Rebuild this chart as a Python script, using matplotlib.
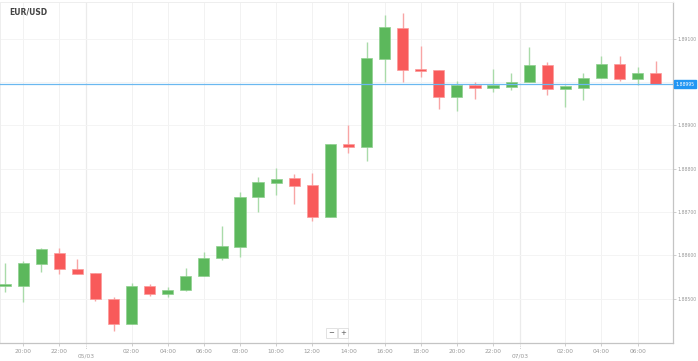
import numpy as np
import matplotlib
matplotlib.use("Agg")
import matplotlib.pyplot as plt
import matplotlib.transforms as mtransforms

# hourly candles, first one is 19:00
opens  = [1.88529, 1.88530, 1.88581, 1.88606, 1.88569, 1.88560, 1.88500, 1.88442,
          1.88530, 1.88511, 1.88521, 1.88553, 1.88595, 1.88620, 1.88735, 1.88768,
          1.88779, 1.88763, 1.88689, 1.88858, 1.88851, 1.89054, 1.89125, 1.89028,
          1.89028, 1.88966, 1.88994, 1.88987, 1.88989, 1.89001, 1.89040, 1.88985,
          1.88987, 1.89010, 1.89042, 1.89008, 1.89022]
closes = [1.88532, 1.88583, 1.88615, 1.88569, 1.88558, 1.88500, 1.88442, 1.88530,
          1.88511, 1.88521, 1.88553, 1.88595, 1.88622, 1.88735, 1.88770, 1.88777,
          1.88761, 1.88689, 1.88858, 1.88851, 1.89056, 1.89128, 1.89028, 1.89026,
          1.88966, 1.88994, 1.88987, 1.88994, 1.89001, 1.89040, 1.88985, 1.88989,
          1.89010, 1.89042, 1.89008, 1.89022, 1.88995]
highs  = [1.88583, 1.88588, 1.88617, 1.88618, 1.88592, 1.88560, 1.88505, 1.88537,
          1.88535, 1.88528, 1.88571, 1.88608, 1.88668, 1.88747, 1.88781, 1.88802,
          1.88788, 1.88791, 1.88858, 1.88902, 1.89093, 1.89155, 1.89160, 1.89084,
          1.89028, 1.89003, 1.89001, 1.89031, 1.89022, 1.89082, 1.89047, 1.88994,
          1.89022, 1.89061, 1.89061, 1.89035, 1.89049]
lows   = [1.88516, 1.88493, 1.88562, 1.88558, 1.88558, 1.88495, 1.88426, 1.88442,
          1.88507, 1.88505, 1.88518, 1.88553, 1.88590, 1.88597, 1.88701, 1.88740,
          1.88719, 1.88680, 1.88689, 1.88837, 1.88818, 1.89001, 1.89001, 1.89012,
          1.88938, 1.88934, 1.88962, 1.88978, 1.88982, 1.89001, 1.88971, 1.88943,
          1.88959, 1.89010, 1.89003, 1.88994, 1.88995]
first_hour = 19
date_labels = ["05/03", "07/03"]
y_ticks = [1.885, 1.886, 1.887, 1.888, 1.889, 1.890, 1.891]
last_price = 1.88995

green = "#5cb85c"
red = "#f85a5a"
green_w = "#a9dba9"
red_w = "#f8a5a5"

o = np.array(opens); c = np.array(closes)
h = np.array(highs); l = np.array(lows)
x = np.arange(len(o))
up = c >= o

fig = plt.figure(figsize=(6.98, 3.61), dpi=100)
ax = fig.add_axes([0.0, 0.05, 0.964, 0.9445])

#wicks
ax.vlines(x[up], l[up], h[up], color=green_w, lw=1.0, zorder=2)
ax.vlines(x[~up], l[~up], h[~up], color=red_w, lw=1.0, zorder=2)
#bodies
bot = np.minimum(o, c)
hgt = np.maximum(np.abs(c - o), 0.00005)
ax.bar(x[up], hgt[up], bottom=bot[up], width=0.62, color=green,
       edgecolor="#8fd08f", linewidth=0.5, zorder=3)
ax.bar(x[~up], hgt[~up], bottom=bot[~up], width=0.62, color=red,
       edgecolor="#fb9a9a", linewidth=0.5, zorder=3)

ax.set_xlim(-0.28, 36.95)
ax.set_ylim(1.88398, 1.89185)

# x ticks: every 2 hours, date marks at midnight boundary
hours = [(first_hour + i) % 24 for i in x]
tpos = [i for i in x if hours[i] % 2 == 0 and hours[i] != 0]
tlab = ["%02d:00" % hours[i] for i in tpos]
dpos = [i - 0.5 for i in x if hours[i] == 0]
ax.set_xticks(tpos)
ax.set_xticklabels(tlab)
ax.tick_params(axis="x", length=2, width=0.5, color="#bbbbbb", labelsize=4.2,
               labelcolor="#999999", pad=2)
for xv in tpos:
    ax.axvline(xv, color="#f2f2f2", lw=0.7, zorder=0)
for xv, lab in zip(dpos, date_labels):
    ax.axvline(xv, color="#ebebeb", lw=0.9, zorder=0)
    ax.plot([xv, xv], [0, -0.018], transform=ax.get_xaxis_transform(),
            color="#bbbbbb", lw=0.6, ls=":", clip_on=False)
    ax.text(xv, -0.032, lab, transform=ax.get_xaxis_transform(), ha="center",
            va="top", fontsize=4.2, color="#999999")

ax.yaxis.tick_right()
ax.set_yticks(y_ticks)
ax.set_yticklabels(["%.5f" % v for v in y_ticks])
ax.tick_params(axis="y", length=2, width=0.5, color="#bbbbbb", labelsize=3.3,
               labelcolor="#999999", pad=1.2)
for yv in y_ticks:
    ax.axhline(yv, color="#f4f4f4", lw=0.7, zorder=0)

for s in ["top", "left"]:
    ax.spines[s].set_color("#eeeeee")
    ax.spines[s].set_linewidth(0.7)
for s in ["right", "bottom"]:
    ax.spines[s].set_color("#c4c4c4")
    ax.spines[s].set_linewidth(0.9)

# current price
ax.axhline(last_price, color="#6ab8f0", lw=0.9, zorder=4)
trans = mtransforms.blended_transform_factory(ax.transAxes, ax.transData)
ax.text(1.004, last_price, "%.5f" % last_price, transform=trans, ha="left",
        va="center", fontsize=3.3, color="white", zorder=5,
        bbox=dict(boxstyle="square,pad=0.3", fc="#2196f3", ec="#2196f3"))

fig.text(0.013, 0.967, "EUR/USD", fontsize=5.5, fontweight="bold",
         color="#444444", va="center", ha="left")

# zoom buttons
for xb, sym in [(331.5, "\u2212"), (343, "+")]:
    fig.text(xb / 698, 1 - 333 / 361, sym, fontsize=5, color="#555555",
             ha="center", va="center",
             bbox=dict(boxstyle="square,pad=0.35", fc="white", ec="#dddddd", lw=0.6))

fig.savefig("out.png", dpi=100)
